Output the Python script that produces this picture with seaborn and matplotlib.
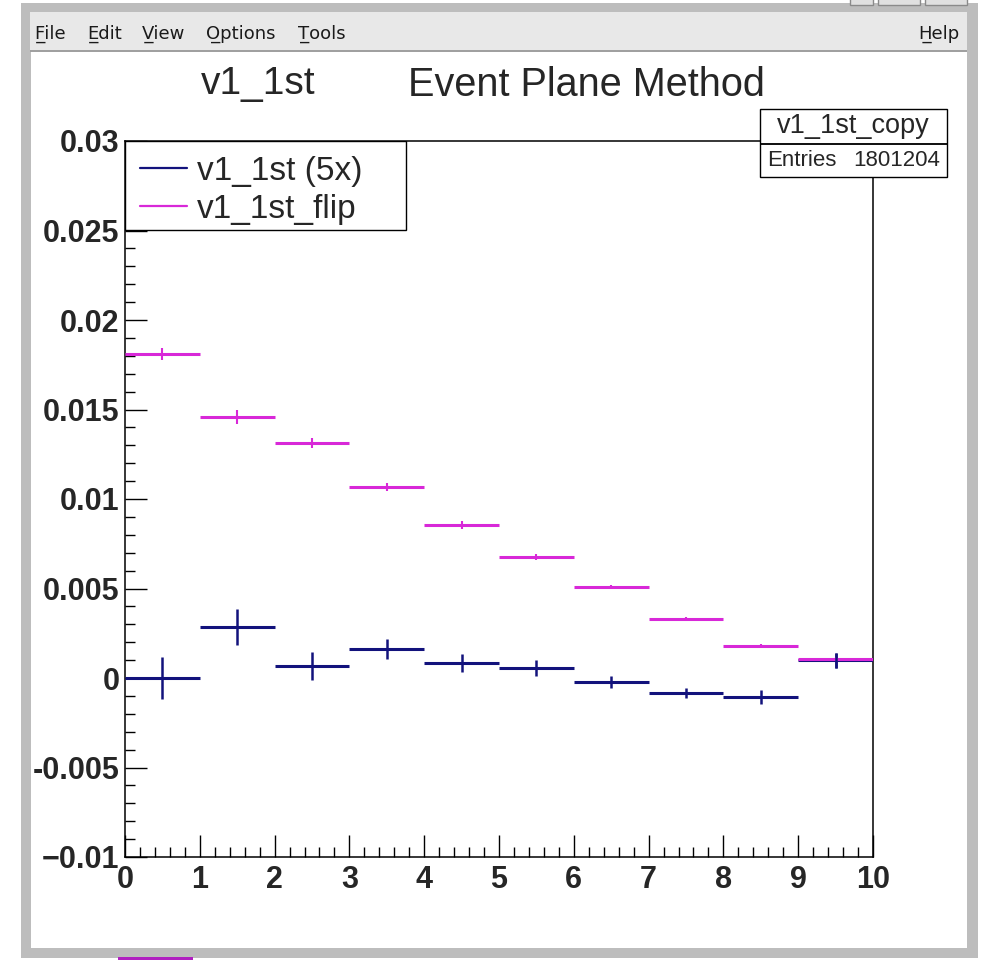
import seaborn as sns
import matplotlib.pyplot as plt
import numpy as np
from matplotlib.patches import Rectangle
from matplotlib.lines import Line2D
from matplotlib.ticker import MultipleLocator

# Data: 10 bins on [0, 10]
bin_edges = [0, 1, 2, 3, 4, 5, 6, 7, 8, 9, 10]
v1_5x = [0.0, 0.00285, 0.00067, 0.00162, 0.00084, 0.00056, -0.00022, -0.00084, -0.00106, 0.00100]
v1_5x_err = [0.00117, 0.0010, 0.00078, 0.00056, 0.0005, 0.00045, 0.00034, 0.00028, 0.00039, 0.00042]
v1_flip = [0.0181, 0.01458, 0.01313, 0.01067, 0.00855, 0.00676, 0.00508, 0.0033, 0.00179, 0.00106]
v1_flip_err = [0.00036, 0.00039, 0.00028, 0.00022, 0.00022, 0.00017, 0.00011, 0.00011, 0.00011, 0.00011]
y_ticks = [-0.01, -0.005, 0, 0.005, 0.01, 0.015, 0.02, 0.025, 0.03]
y_tick_labels = ['\u22120.01', '-0.005', '0', '0.005', '0.01', '0.015', '0.02', '0.025', '0.03']
x_ticks = [0, 1, 2, 3, 4, 5, 6, 7, 8, 9, 10]
menu_items = ['File', 'Edit', 'View', 'Options', 'Tools']
menu_x = [35, 87, 142, 206, 298]

sns.set_style('white')
plt.rcParams['font.family'] = ['Liberation Sans', 'DejaVu Sans']

W, H = 982, 960
fig = plt.figure(figsize=(W / 100, H / 100), dpi=100, facecolor='white')


def fx(x):
    return x / W


def fy(y):
    return 1 - y / H


def prect(x0, y0, x1, y1, **kw):
    r = Rectangle((fx(x0), fy(y1)), fx(x1) - fx(x0), fy(y0) - fy(y1),
                  transform=fig.transFigure, **kw)
    fig.add_artist(r)
    return r


# window chrome
prect(21, 3, 978, 958, facecolor='#bdbdbd', edgecolor='none', zorder=-10)
prect(30, 12, 967, 50, facecolor='#e8e8e8', edgecolor='none', zorder=-9)
prect(31, 51, 967, 948, facecolor='white', edgecolor='none', zorder=-9)
prect(30, 50, 967, 51.5, facecolor='#a0a0a0', edgecolor='none', zorder=-9)
for bx0, bx1 in [(850, 873), (878, 920), (925, 967)]:
    prect(bx0, -6, bx1, 5, facecolor='#e0e0e0', edgecolor='#8a8a8a', lw=1, zorder=-8)
prect(118, 957, 193, 960, facecolor='#b020c0', edgecolor='none', zorder=-8)

for name, mx in zip(menu_items, menu_x):
    fig.text(fx(mx), fy(34), name[0] + '\u0332' + name[1:], family='DejaVu Sans',
             fontsize=13, ha='left', va='center', color='#1a1a1a')
fig.text(fx(959), fy(34), 'H\u0332elp', family='DejaVu Sans', fontsize=13,
         ha='right', va='center', color='#1a1a1a')

# axes
ax = fig.add_axes([fx(125), fy(857), fx(873) - fx(125), fy(141) - fy(857)])
ax.set_facecolor('white')

centers = [(bin_edges[i] + bin_edges[i + 1]) / 2 for i in range(len(bin_edges) - 1)]
blue = '#12127c'
mag = '#d828d8'

ax.errorbar(centers, v1_5x, xerr=0.5, fmt='none', ecolor=blue, elinewidth=2.2, capsize=0, zorder=3)
ax.errorbar(centers, v1_5x, yerr=v1_5x_err, fmt='none', ecolor=blue, elinewidth=1.8, capsize=0, zorder=3)
ax.errorbar(centers, v1_flip, xerr=0.5, fmt='none', ecolor=mag, elinewidth=2.2, capsize=0, zorder=4)
ax.errorbar(centers, v1_flip, yerr=v1_flip_err, fmt='none', ecolor=mag, elinewidth=1.5, capsize=0, zorder=4)
ax.errorbar(centers[-1:], v1_5x[-1:], yerr=v1_5x_err[-1:], fmt='none', ecolor=blue,
            elinewidth=1.8, capsize=0, zorder=5)

ax.set_xlim(0, 10)
ax.set_ylim(-0.01, 0.03)
ax.set_xticks(x_ticks)
ax.set_xticklabels([str(t) for t in x_ticks])
ax.set_yticks(y_ticks)
ax.set_yticklabels(y_tick_labels)
ax.xaxis.set_minor_locator(MultipleLocator(0.2))
ax.yaxis.set_minor_locator(MultipleLocator(0.001))
ax.tick_params(which='both', direction='in', left=True, bottom=True, right=False, top=False,
               width=1.0, color='black')
ax.tick_params(which='major', length=16)
ax.tick_params(which='minor', length=7.5)
ax.tick_params(axis='y', which='major', pad=4, labelsize=22)
ax.tick_params(axis='x', which='major', pad=6, labelsize=22)
for lab in ax.get_xticklabels() + ax.get_yticklabels():
    lab.set_fontweight('bold')
for sp in ax.spines.values():
    sp.set_color('black')
    sp.set_linewidth(1.1)

# legend
ax.add_patch(Rectangle((0, (857 - 230) / 716), (406 - 125) / 748, (230 - 141) / 716,
                       transform=ax.transAxes, facecolor='white', edgecolor='black',
                       lw=1.0, zorder=6))
handles = [Line2D([], [], color=blue, lw=1.6), Line2D([], [], color=mag, lw=1.6)]
leg = ax.legend(handles, ['v1_1st (5x)', 'v1_1st_flip'], loc='upper left',
                bbox_to_anchor=(0.0, 1.0), frameon=False, fontsize=24,
                handlelength=1.4, handletextpad=0.3, borderpad=0.15,
                labelspacing=0.2, borderaxespad=0.3)
leg.set_zorder(7)

# stats box
prect(760, 109, 947, 177, facecolor='white', edgecolor='black', lw=1.0, zorder=8)
prect(760, 143, 947, 143.5, facecolor='black', edgecolor='black', lw=0.6, zorder=9)
fig.text(fx(853), fy(126), 'v1_1st_copy', fontsize=19.5, ha='center', va='center', zorder=10)
fig.text(fx(767), fy(160), 'Entries', fontsize=16, ha='left', va='center', zorder=10)
fig.text(fx(940), fy(160), '1801204', fontsize=16, ha='right', va='center', zorder=10)

# titles
fig.text(fx(258), fy(84), 'v1_1st', fontsize=28, ha='center', va='center')
fig.text(fx(586), fy(85), 'Event Plane Method', fontsize=28.5, ha='center', va='center')

fig.savefig('out.png', dpi=100, facecolor=fig.get_facecolor())
